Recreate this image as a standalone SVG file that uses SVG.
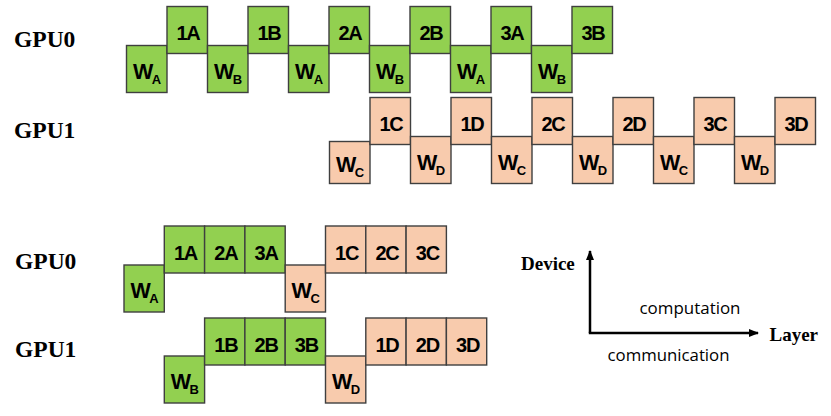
<svg xmlns="http://www.w3.org/2000/svg" width="831" height="416" viewBox="0 0 831 416">
<style>
.g{fill:#92D050;stroke:#3f3f3f;stroke-width:1.4}
.o{fill:#F8CBAD;stroke:#3f3f3f;stroke-width:1.4}
.t{font-family:"Liberation Sans",Arial,sans-serif;font-weight:bold;font-size:20px;fill:#000;text-anchor:middle;letter-spacing:-1.2px}
.w{font-family:"Liberation Sans",Arial,sans-serif;font-weight:bold;font-size:21.5px;fill:#000;text-anchor:middle;letter-spacing:-1.5px}
.s{font-size:13px;letter-spacing:0}
.lab{font-family:"Liberation Serif","Times New Roman",serif;font-weight:bold;font-size:23.5px;fill:#000}
.ax{font-family:"Liberation Serif","Times New Roman",serif;font-weight:bold;font-size:19px;fill:#000}
.cm{font-family:"Open Sans","Noto Sans",sans-serif;font-size:17px;fill:#000}
.axis{stroke:#000;stroke-width:2.5;fill:none}
</style>
<defs>
<marker id="ah" markerWidth="10" markerHeight="8" refX="9" refY="4" orient="auto" markerUnits="userSpaceOnUse">
<path d="M0,0 L10,4 L0,8 Z" fill="#000"/>
</marker>
</defs>

<text class="lab" x="14" y="47">GPU0</text>
<text class="lab" x="14" y="138">GPU1</text>
<text class="lab" x="15" y="269">GPU0</text>
<text class="lab" x="15" y="356.5">GPU1</text>

<!-- Top GPU0 row -->
<g id="t0_wa1"><rect class="g" x="126.5" y="45.5" width="40.5" height="47"/><text class="w" x="147" y="78.5">W<tspan class="s" dy="5">A</tspan></text></g>
<g id="t0_1a"><rect class="g" x="167" y="6.5" width="40.5" height="47"/><text class="t" x="188" y="40">1A</text></g>
<g id="t0_wb1"><rect class="g" x="207.5" y="45.5" width="40.5" height="47"/><text class="w" x="228" y="78.5">W<tspan class="s" dy="5">B</tspan></text></g>
<g id="t0_1b"><rect class="g" x="248" y="6.5" width="40.5" height="47"/><text class="t" x="269" y="40">1B</text></g>
<g id="t0_wa2"><rect class="g" x="288.5" y="45.5" width="40.5" height="47"/><text class="w" x="309" y="78.5">W<tspan class="s" dy="5">A</tspan></text></g>
<g id="t0_2a"><rect class="g" x="329" y="6.5" width="40.5" height="47"/><text class="t" x="350" y="40">2A</text></g>
<g id="t0_wb2"><rect class="g" x="369.5" y="45.5" width="40.5" height="47"/><text class="w" x="390" y="78.5">W<tspan class="s" dy="5">B</tspan></text></g>
<g id="t0_2b"><rect class="g" x="410" y="6.5" width="40.5" height="47"/><text class="t" x="431" y="40">2B</text></g>
<g id="t0_wa3"><rect class="g" x="450.5" y="45.5" width="40.5" height="47"/><text class="w" x="471" y="78.5">W<tspan class="s" dy="5">A</tspan></text></g>
<g id="t0_3a"><rect class="g" x="491" y="6.5" width="40.5" height="47"/><text class="t" x="512" y="40">3A</text></g>
<g id="t0_wb3"><rect class="g" x="531.5" y="45.5" width="40.5" height="47"/><text class="w" x="552" y="78.5">W<tspan class="s" dy="5">B</tspan></text></g>
<g id="t0_3b"><rect class="g" x="572" y="6.5" width="40.5" height="47"/><text class="t" x="593" y="40">3B</text></g>

<!-- Top GPU1 row -->
<g id="t1_wc1"><rect class="o" x="329.5" y="141.5" width="40.5" height="42"/><text class="w" x="350" y="172">W<tspan class="s" dy="5">C</tspan></text></g>
<g id="t1_1c"><rect class="o" x="370" y="97.5" width="40.5" height="47"/><text class="t" x="391" y="131">1C</text></g>
<g id="t1_wd1"><rect class="o" x="410.5" y="136.5" width="40.5" height="47"/><text class="w" x="431" y="169.5">W<tspan class="s" dy="5">D</tspan></text></g>
<g id="t1_1d"><rect class="o" x="451" y="97.5" width="40.5" height="47"/><text class="t" x="472" y="131">1D</text></g>
<g id="t1_wc2"><rect class="o" x="491.5" y="136.5" width="40.5" height="47"/><text class="w" x="512" y="169.5">W<tspan class="s" dy="5">C</tspan></text></g>
<g id="t1_2c"><rect class="o" x="532" y="97.5" width="40.5" height="47"/><text class="t" x="553" y="131">2C</text></g>
<g id="t1_wd2"><rect class="o" x="572.5" y="136.5" width="40.5" height="47"/><text class="w" x="593" y="169.5">W<tspan class="s" dy="5">D</tspan></text></g>
<g id="t1_2d"><rect class="o" x="613" y="97.5" width="40.5" height="47"/><text class="t" x="634" y="131">2D</text></g>
<g id="t1_wc3"><rect class="o" x="653.5" y="136.5" width="40.5" height="47"/><text class="w" x="674" y="169.5">W<tspan class="s" dy="5">C</tspan></text></g>
<g id="t1_3c"><rect class="o" x="694" y="97.5" width="40.5" height="47"/><text class="t" x="715" y="131">3C</text></g>
<g id="t1_wd3"><rect class="o" x="734.5" y="136.5" width="40.5" height="47"/><text class="w" x="755" y="169.5">W<tspan class="s" dy="5">D</tspan></text></g>
<g id="t1_3d"><rect class="o" x="775" y="97.5" width="40.5" height="47"/><text class="t" x="796" y="131">3D</text></g>

<!-- Bottom GPU0 row -->
<g id="b0_wa"><rect class="g" x="124" y="265" width="40.3" height="47"/><text class="w" x="144.5" y="298">W<tspan class="s" dy="5">A</tspan></text></g>
<g id="b0_1a"><rect class="g" x="164.3" y="226" width="40.3" height="47"/><text class="t" x="185.5" y="259.5">1A</text></g>
<g id="b0_2a"><rect class="g" x="204.6" y="226" width="40.3" height="47"/><text class="t" x="225.8" y="259.5">2A</text></g>
<g id="b0_3a"><rect class="g" x="244.9" y="226" width="40.3" height="47"/><text class="t" x="266.1" y="259.5">3A</text></g>
<g id="b0_wc"><rect class="o" x="285.2" y="265" width="40.3" height="47"/><text class="w" x="305.7" y="298">W<tspan class="s" dy="5">C</tspan></text></g>
<g id="b0_1c"><rect class="o" x="325.5" y="226" width="40.3" height="47"/><text class="t" x="346.7" y="259.5">1C</text></g>
<g id="b0_2c"><rect class="o" x="365.8" y="226" width="40.3" height="47"/><text class="t" x="387" y="259.5">2C</text></g>
<g id="b0_3c"><rect class="o" x="406.1" y="226" width="40.3" height="47"/><text class="t" x="427.3" y="259.5">3C</text></g>

<!-- Bottom GPU1 row -->
<g id="b1_wb"><rect class="g" x="164.3" y="356" width="40.3" height="47"/><text class="w" x="184.8" y="389">W<tspan class="s" dy="5">B</tspan></text></g>
<g id="b1_1b"><rect class="g" x="204.6" y="318" width="40.3" height="47"/><text class="t" x="225.8" y="351.5">1B</text></g>
<g id="b1_2b"><rect class="g" x="244.9" y="318" width="40.3" height="47"/><text class="t" x="266.1" y="351.5">2B</text></g>
<g id="b1_3b"><rect class="g" x="285.2" y="318" width="40.3" height="47"/><text class="t" x="306.4" y="351.5">3B</text></g>
<g id="b1_wd"><rect class="o" x="325.5" y="356" width="40.3" height="47"/><text class="w" x="346" y="389">W<tspan class="s" dy="5">D</tspan></text></g>
<g id="b1_1d"><rect class="o" x="365.8" y="318" width="40.3" height="47"/><text class="t" x="387" y="351.5">1D</text></g>
<g id="b1_2d"><rect class="o" x="406.1" y="318" width="40.3" height="47"/><text class="t" x="427.3" y="351.5">2D</text></g>
<g id="b1_3d"><rect class="o" x="446.4" y="318" width="40.3" height="47"/><text class="t" x="467.6" y="351.5">3D</text></g>

<!-- Axes legend -->
<g id="connectors">
<path class="axis" d="M590,333 L590,251" marker-end="url(#ah)"/>
<path class="axis" d="M588.8,333 L758,333" marker-end="url(#ah)"/>
</g>
<text class="ax" x="521" y="269.5">Device</text>
<text class="ax" x="769.5" y="340.5">Layer</text>
<text class="cm" x="639.5" y="313.5" textLength="101" lengthAdjust="spacingAndGlyphs">computation</text>
<text class="cm" x="607.5" y="361" textLength="122" lengthAdjust="spacingAndGlyphs">communication</text>
</svg>
